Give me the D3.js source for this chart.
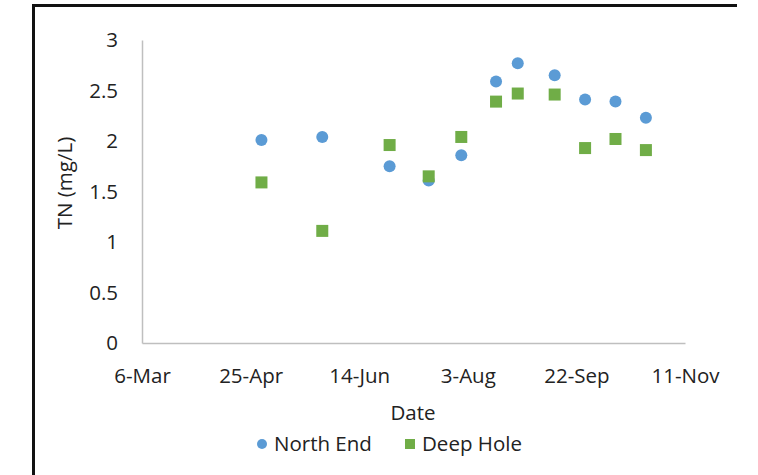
<!DOCTYPE html>
<html><head><meta charset="utf-8">
<script src="https://cdn.jsdelivr.net/npm/d3@7"></script>
<style>body{margin:0;background:#fff}svg{display:block}text{font-family:"Open Sans",sans-serif;fill:#222}</style>
</head><body><svg id="c" width="758" height="475"></svg>
<script>
const dates = ["2014-04-30","2014-05-28","2014-06-28","2014-07-16","2014-07-31","2014-08-16","2014-08-26","2014-09-12","2014-09-26","2014-10-10","2014-10-24"];
const northEnd = [2.01,2.04,1.75,1.61,1.86,2.59,2.77,2.65,2.41,2.39,2.23];
const deepHole = [1.59,1.11,1.96,1.65,2.04,2.39,2.47,2.46,1.93,2.02,1.91];
const xTickDates = ["2014-03-06","2014-04-25","2014-06-14","2014-08-03","2014-09-22","2014-11-11"];
const xTickLabels = ["6-Mar","25-Apr","14-Jun","3-Aug","22-Sep","11-Nov"];
const yTicks = [0,0.5,1,1.5,2,2.5,3];
const seriesNames = ["North End","Deep Hole"];
const colors = ["#5B9BD5","#70AD47"];

const parse = d3.utcParse("%Y-%m-%d");
const svg = d3.select("#c");
const fs = 20.5;

// frame
svg.append("line").attr("x1",33.5).attr("x2",33.5).attr("y1",4).attr("y2",475).attr("stroke","#111").attr("stroke-width",3);
svg.append("line").attr("x1",32).attr("x2",737).attr("y1",5.5).attr("y2",5.5).attr("stroke","#111").attr("stroke-width",3);

const x = d3.scaleUtc().domain([parse(xTickDates[0]), parse(xTickDates[5])]).range([142,685]);
const y = d3.scaleLinear().domain([0,3]).range([343,40]);

const xAxis = d3.axisBottom(x).tickValues(xTickDates.map(parse)).tickFormat((d,i)=>xTickLabels[i]).tickSize(0).tickPadding(25);
const gx = svg.append("g").attr("transform","translate(0,343)").call(xAxis);
gx.select(".domain").attr("stroke","#bfbfbf").attr("stroke-width",1.5);
gx.selectAll("text").attr("font-size",fs).attr("font-family","Open Sans").attr("fill","#222");

const yAxis = d3.axisLeft(y).tickValues(yTicks).tickFormat(d3.format("")).tickSize(0).tickPadding(24);
const gy = svg.append("g").attr("transform","translate(142,0)").call(yAxis);
gy.select(".domain").attr("stroke","#bfbfbf").attr("stroke-width",1.5);
gy.selectAll("text").attr("font-size",fs).attr("font-family","Open Sans").attr("fill","#222");

svg.append("text").attr("x",413).attr("y",420).attr("text-anchor","middle").attr("font-size",fs).text("Date");
svg.append("text").attr("transform","translate(72,183) rotate(-90)").attr("text-anchor","middle").attr("font-size",fs).text("TN (mg/L)");

// points
svg.append("g").selectAll("circle").data(northEnd).join("circle")
  .attr("cx",(d,i)=>x(parse(dates[i]))).attr("cy",d=>y(d)).attr("r",6).attr("fill",colors[0]);
svg.append("g").selectAll("rect").data(deepHole).join("rect")
  .attr("x",(d,i)=>x(parse(dates[i]))-6).attr("y",d=>y(d)-6).attr("width",12).attr("height",12).attr("fill",colors[1]);

// legend
const lg = svg.append("g");
lg.append("circle").attr("cx",262).attr("cy",444).attr("r",5).attr("fill",colors[0]);
lg.append("text").attr("x",274).attr("y",451).attr("font-size",fs).text(seriesNames[0]);
lg.append("rect").attr("x",405).attr("y",439).attr("width",10).attr("height",10).attr("fill",colors[1]);
lg.append("text").attr("x",422).attr("y",451).attr("font-size",fs).text(seriesNames[1]);
</script></body></html>
